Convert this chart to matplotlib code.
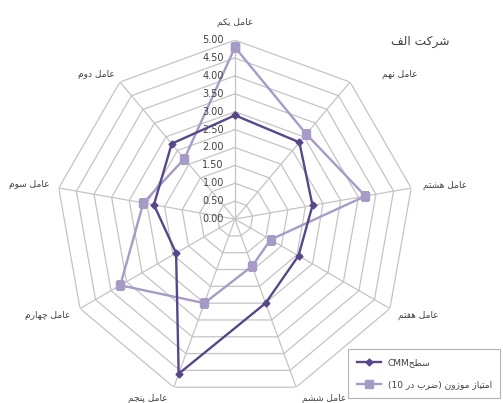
import re
import numpy as np
import matplotlib
matplotlib.use("Agg")
import matplotlib.pyplot as plt
from matplotlib.lines import Line2D

# factor names, counter-clockwise from the top
factors = ["عامل یکم", "عامل دوم", "عامل سوم", "عامل چهارم", "عامل پنجم",
           "عامل ششم", "عامل هفتم", "عامل هشتم", "عامل نهم"]
cmm_level = [2.9, 2.75, 2.3, 1.9, 4.6, 2.5, 2.05, 2.2, 2.8]
weighted_score = [4.8, 2.2, 2.6, 3.7, 2.5, 1.4, 1.15, 3.7, 3.1]
series_names = ["سطحCMM", "امتیاز موزون (ضرب در 10)"]
title = "شرکت الف"
ring_values = np.arange(0.5, 5.01, 0.5)

# presentation forms: isolated, final, initial, medial
FORMS = {
    "ا": ("\uFE8D", "\uFE8E"), "د": ("\uFEA9", "\uFEAA"), "ر": ("\uFEAD", "\uFEAE"),
    "ز": ("\uFEAF", "\uFEB0"), "و": ("\uFEED", "\uFEEE"),
    "ب": ("\uFE8F", "\uFE90", "\uFE91", "\uFE92"), "پ": ("\uFB56", "\uFB57", "\uFB58", "\uFB59"),
    "ت": ("\uFE95", "\uFE96", "\uFE97", "\uFE98"), "ج": ("\uFE9D", "\uFE9E", "\uFE9F", "\uFEA0"),
    "چ": ("\uFB7A", "\uFB7B", "\uFB7C", "\uFB7D"), "ح": ("\uFEA1", "\uFEA2", "\uFEA3", "\uFEA4"),
    "س": ("\uFEB1", "\uFEB2", "\uFEB3", "\uFEB4"), "ش": ("\uFEB5", "\uFEB6", "\uFEB7", "\uFEB8"),
    "ض": ("\uFEBD", "\uFEBE", "\uFEBF", "\uFEC0"), "ط": ("\uFEC1", "\uFEC2", "\uFEC3", "\uFEC4"),
    "ع": ("\uFEC9", "\uFECA", "\uFECB", "\uFECC"), "ف": ("\uFED1", "\uFED2", "\uFED3", "\uFED4"),
    "ک": ("\uFB8E", "\uFB8F", "\uFB90", "\uFB91"), "ل": ("\uFEDD", "\uFEDE", "\uFEDF", "\uFEE0"),
    "م": ("\uFEE1", "\uFEE2", "\uFEE3", "\uFEE4"), "ن": ("\uFEE5", "\uFEE6", "\uFEE7", "\uFEE8"),
    "ه": ("\uFEE9", "\uFEEA", "\uFEEB", "\uFEEC"), "ی": ("\uFBFC", "\uFBFD", "\uFBFE", "\uFBFF"),
}


def shape(text):
    out = []
    for i, ch in enumerate(text):
        forms = FORMS.get(ch)
        if forms is None:
            out.append(ch)
            continue
        prev = text[i - 1] if i > 0 else ""
        nxt = text[i + 1] if i + 1 < len(text) else ""
        joins_prev = len(FORMS.get(prev, ())) == 4
        joins_next = len(forms) == 4 and nxt in FORMS
        if joins_prev and joins_next:
            out.append(forms[3])
        elif joins_prev:
            out.append(forms[1])
        elif joins_next:
            out.append(forms[2])
        else:
            out.append(forms[0])
    return "".join(out)


def rtl(text):
    # shape, then lay out right-to-left keeping latin/digit runs intact
    runs = re.findall(r"[A-Za-z0-9.]+|[^A-Za-z0-9.]+", shape(text))
    mirror = str.maketrans("()", ")(")
    parts = []
    for run in reversed(runs):
        if re.match(r"[A-Za-z0-9.]", run):
            parts.append(run)
        else:
            parts.append(run[::-1].translate(mirror))
    return "".join(parts)


plt.rcParams["font.family"] = ["DejaVu Sans"]
text_color = "#404040"
grid_color = "#c4c4c4"
dark = "#57468a"
light = "#a69ac6"

fig = plt.figure(figsize=(5.03, 4.03), dpi=100)
ax = fig.add_axes([0.1113, 0.0124, 0.7117, 0.888], projection="polar")
ax.set_theta_offset(np.pi / 2)
ax.set_ylim(0, 5)
ax.grid(False)
ax.spines["polar"].set_visible(False)
ax.set_xticks([])
ax.set_yticks([])

n = len(factors)
angles = np.arange(n) * 2 * np.pi / n
closed = np.append(angles, angles[0])

# nonagon rings and spokes
for r in ring_values:
    ax.plot(closed, [r] * (n + 1), color=grid_color, lw=0.9, zorder=1)
for a in angles:
    ax.plot([a, a], [0, 5], color=grid_color, lw=0.9, zorder=1)

ax.plot(closed, cmm_level + cmm_level[:1], color=dark, lw=1.7, marker="D",
        ms=3.5, zorder=4)
ax.plot(closed, weighted_score + weighted_score[:1], color=light, lw=1.7,
        marker="s", ms=6, zorder=3)

# radial value labels beside the top spoke
for r in np.append(0.0, ring_values):
    ax.annotate(f"{r:.2f}", xy=(0, r), xytext=(-8, 0), textcoords="offset points",
                ha="right", va="center", fontsize=7, color=text_color)

# factor labels around the outer ring (offsets in pixels)
label_offsets = [("center", 0, 18), ("right", -5, 8), ("right", -9, 3),
                 ("right", -10, -6.5), ("right", -6, -11), ("left", 6, -11),
                 ("left", 8, -6.5), ("left", 12, 3), ("left", 32, 8)]
for a, name, (ha, dx, dy) in zip(angles, factors, label_offsets):
    ax.annotate(rtl(name), xy=(a, 5), xytext=(dx * 0.72, dy * 0.72),
                textcoords="offset points", ha=ha, va="center",
                fontsize=6.5, color=text_color, annotation_clip=False)

fig.text(420 / 503, 1 - 42 / 403, rtl(title), ha="center", va="center",
         fontsize=8.8, color=text_color)

handles = [Line2D([], [], color=dark, lw=1.7, marker="D", ms=3.5),
           Line2D([], [], color=light, lw=1.7, marker="s", ms=6)]
leg = fig.legend(handles, [rtl(s) for s in series_names], loc="lower left",
                 bbox_to_anchor=(0.692, 0.012, 0.302, 0.124), mode="expand",
                 borderaxespad=0, borderpad=1.0, fontsize=6.5, handlelength=2.6,
                 fancybox=False, edgecolor="#a0a0a0", labelspacing=1.4)
leg.get_frame().set_linewidth(0.8)
for t in leg.get_texts():
    t.set_color(text_color)

fig.savefig("out.png", dpi=100)
